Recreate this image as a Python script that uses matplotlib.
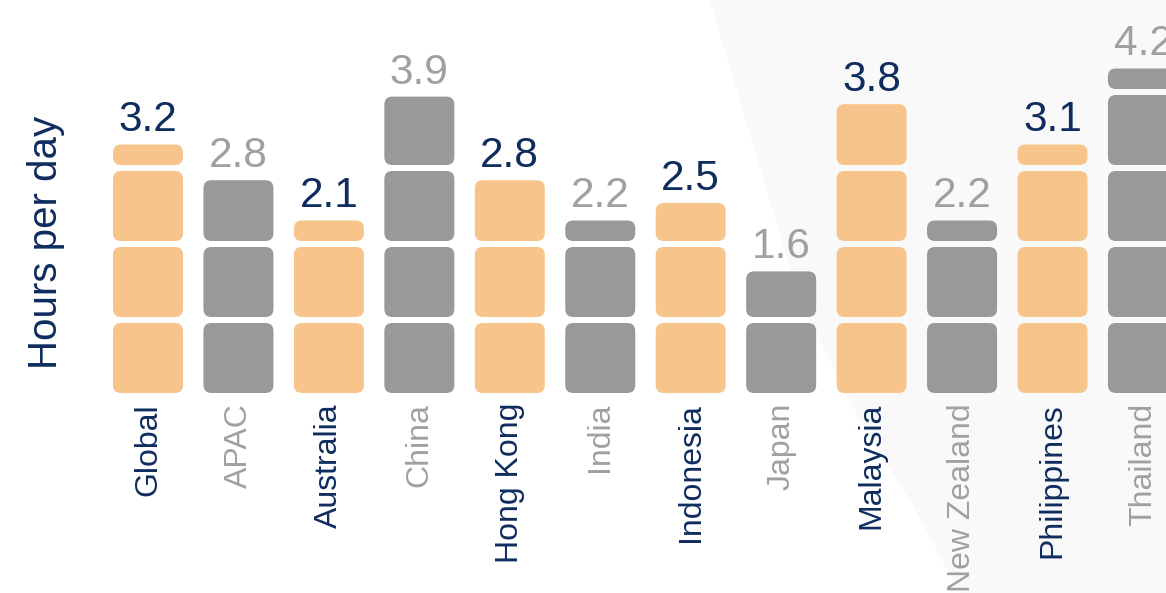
import matplotlib
matplotlib.use("Agg")
import matplotlib.pyplot as plt
from matplotlib.patches import FancyBboxPatch, Polygon
import numpy as np

categories = ["Global", "APAC", "Australia", "China", "Hong Kong", "India",
              "Indonesia", "Japan", "Malaysia", "New Zealand", "Philippines", "Thailand"]
values = [3.2, 2.8, 2.1, 3.9, 2.8, 2.2, 2.5, 1.6, 3.8, 2.2, 3.1, 4.2]
highlight = [True, False, True, False, True, False, True, False, True, False, True, False]

ORANGE = "#F7C58B"
GRAY = "#999999"
NAVY = "#0E2D5E"
LGRAY = "#A0A0A0"

W, H = 1166, 593
fig = plt.figure(figsize=(W / 100, H / 100), dpi=100)
fig.patch.set_facecolor("white")

# light background shape on the right
bg_pts = [(710, 0), (755, 150), (800, 300), (860, 420), (910, 500), (960, 593), (1166, 593), (1166, 0)]
fig.patches.append(Polygon([(x / W, 1 - y / H) for x, y in bg_pts], closed=True,
                           transform=fig.transFigure, facecolor="#F9F9F9",
                           edgecolor="none", zorder=-10))

ax = fig.add_axes([0, 0, 1, 1])
ax.set_zorder(1)
ax.set_facecolor("none")
xpx = 90.45   # px per category
ypx = 76.0    # px per hour
x0 = 148.0    # px center of first bar
base = 393.0  # px baseline from top
ax.set_xlim(-x0 / xpx, (W - x0) / xpx)
ax.set_ylim(-(H - base) / ypx, base / ypx)
ax.axis("off")

bw = 70 / xpx
gap = 6 / ypx
rad = 8 / xpx
aspect = xpx / ypx
min_part = 0.27

for i, (v, hl) in enumerate(zip(values, highlight)):
    col = ORANGE if hl else GRAY
    n = int(np.floor(v + 1e-9))
    rem = v - n
    for k in range(n):
        ax.add_patch(FancyBboxPatch((i - bw / 2, k), bw, 1 - gap,
                                    boxstyle=f"round,pad=0,rounding_size={rad}",
                                    mutation_aspect=aspect, facecolor=col,
                                    edgecolor="none", zorder=2))
    top = n
    if rem > 1e-6:
        h = max(rem, min_part)
        ax.add_patch(FancyBboxPatch((i - bw / 2, n), bw, h,
                                    boxstyle=f"round,pad=0,rounding_size={rad}",
                                    mutation_aspect=aspect, facecolor=col,
                                    edgecolor="none", zorder=2))
        top = n + h
    ax.text(i, top + 13 / ypx, f"{v:.1f}", ha="center", va="baseline",
            fontsize=30.5, color=NAVY if hl else LGRAY,
            family=["Liberation Sans", "DejaVu Sans"], zorder=3)
    ax.text(i, -10 / ypx, categories[i], ha="center", va="top", rotation=90,
            fontsize=23, color=NAVY if hl else LGRAY,
            family=["Liberation Sans", "DejaVu Sans"], zorder=3)

fig.text(46 / W, 1 - 242 / H, "Hours per day", rotation=90, ha="center", va="center",
         fontsize=29, color=NAVY, family=["Liberation Sans", "DejaVu Sans"])

fig.savefig("out.png", dpi=100, facecolor="white")
